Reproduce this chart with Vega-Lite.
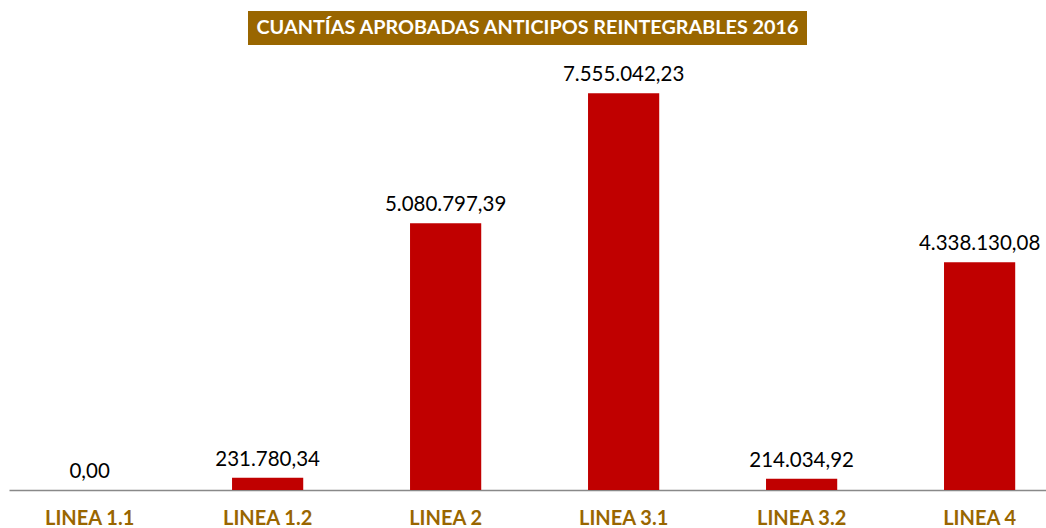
{
  "$schema": "https://vega.github.io/schema/vega-lite/v6.json",
  "padding": {"left": 9, "top": 11, "right": 0, "bottom": 0},
  "background": "white",
  "config": {
    "locale": {"number": {"decimal": ",", "thousands": ".", "grouping": [3], "currency": ["", " €"]}},
    "font": "Lato",
    "concat": {"spacing": 20}
  },
  "center": true,
  "datasets": {
    "bars": [
      {"linea": "LINEA 1.1", "cuantia": 0.00},
      {"linea": "LINEA 1.2", "cuantia": 231780.34},
      {"linea": "LINEA 2", "cuantia": 5080797.39},
      {"linea": "LINEA 3.1", "cuantia": 7555042.23},
      {"linea": "LINEA 3.2", "cuantia": 214034.92},
      {"linea": "LINEA 4", "cuantia": 4338130.08}
    ],
    "titulo": [{"texto": "CUANTÍAS APROBADAS ANTICIPOS REINTEGRABLES 2016"}]
  },
  "vconcat": [
    {
      "width": 559,
      "height": 34,
      "view": {"fill": "#996600", "stroke": null},
      "data": {"name": "titulo"},
      "mark": {"type": "text", "font": "Lato", "fontWeight": "bold", "fontSize": 19.8, "color": "white", "align": "center", "baseline": "middle"},
      "encoding": {"text": {"field": "texto", "type": "nominal"}}
    },
    {
      "width": 1037,
      "height": 420,
      "view": {"stroke": null},
      "data": {"name": "bars"},
      "encoding": {
        "x": {
          "field": "linea", "type": "nominal", "sort": null,
          "scale": {"paddingInner": 0.6, "paddingOuter": 0.213, "align": 0.594},
          "axis": {"title": null, "labelAngle": 0, "ticks": false, "domainColor": "#898989", "domainWidth": 1.5,
                   "labelFont": "Lato", "labelFontWeight": "bold", "labelFontSize": 20, "labelColor": "#996600", "labelPadding": 18}
        },
        "y": {
          "field": "cuantia", "type": "quantitative",
          "scale": {"domain": [0, 8000000], "nice": false},
          "axis": null
        }
      },
      "layer": [
        {"mark": {"type": "bar", "color": "#C00000"}},
        {
          "mark": {"type": "text", "baseline": "bottom", "dy": -8, "fontSize": 20.5, "font": "Lato", "color": "black"},
          "encoding": {"text": {"field": "cuantia", "type": "quantitative", "format": ",.2f"}}
        }
      ]
    }
  ]
}
